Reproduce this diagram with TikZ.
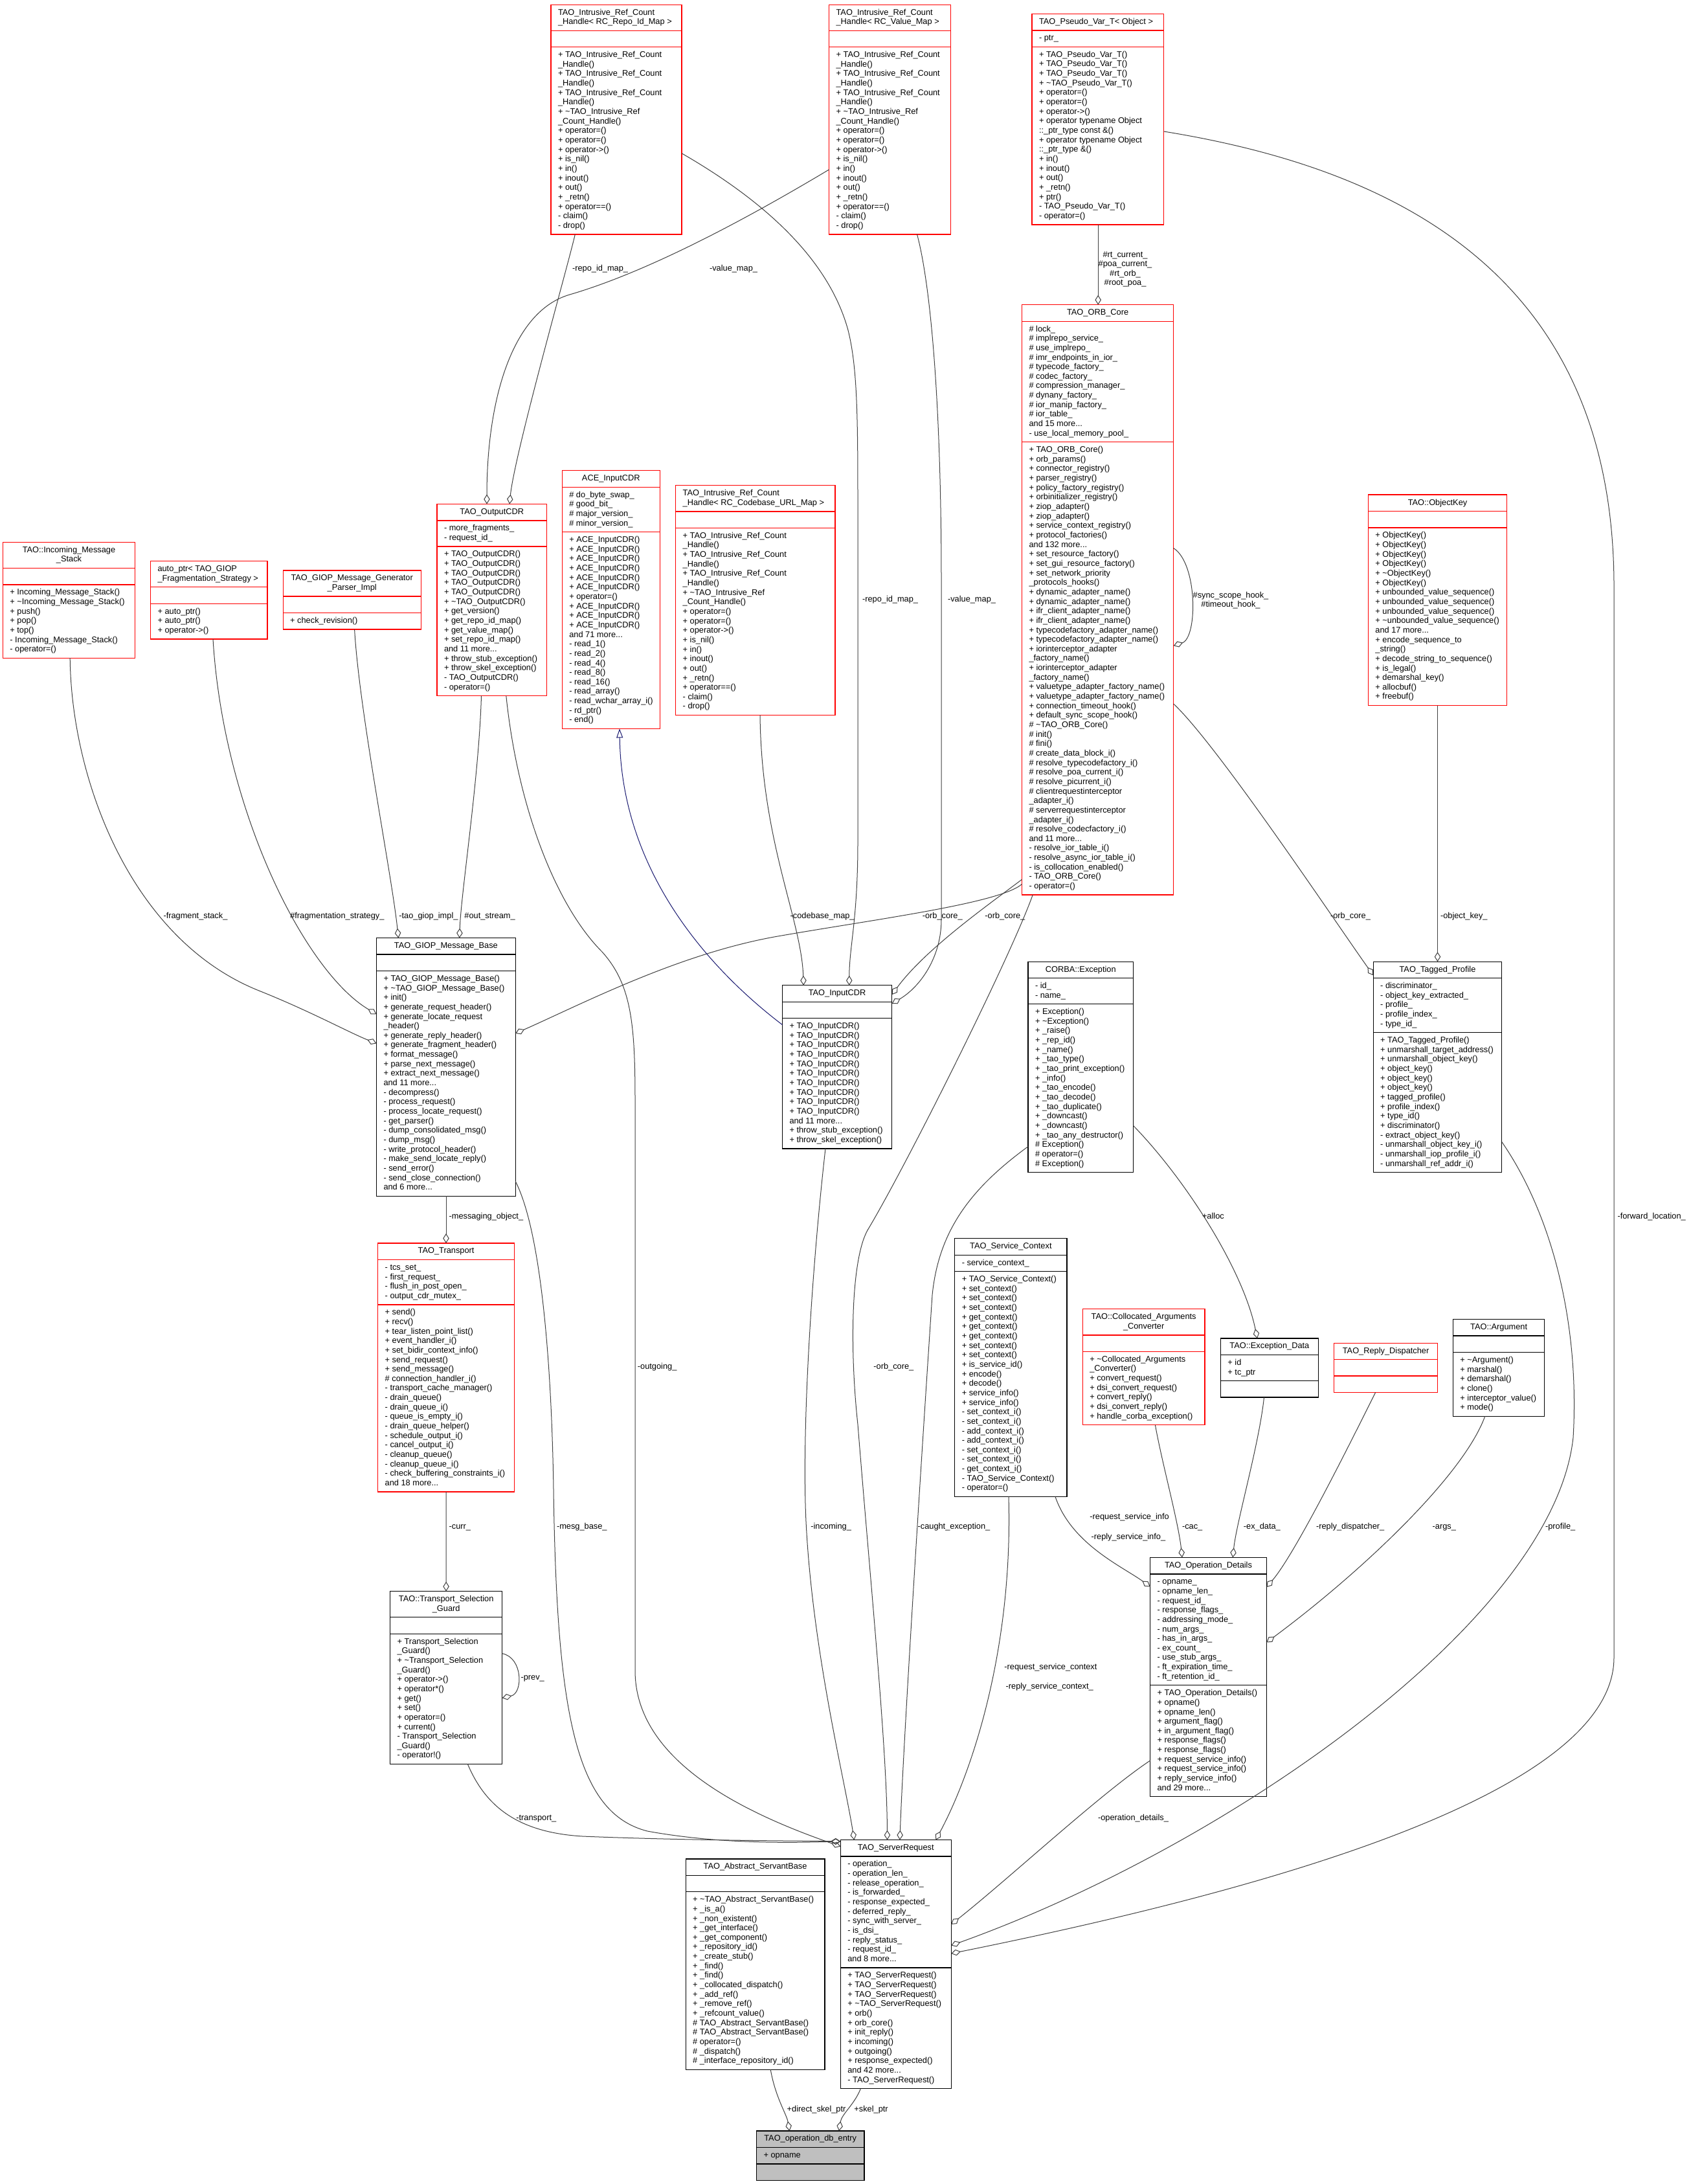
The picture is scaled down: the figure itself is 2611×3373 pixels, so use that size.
\documentclass[tikz,border=0pt]{standalone}
\usepackage{fontspec}
\setmainfont{Liberation Sans}
\usetikzlibrary{arrows.meta}
\definecolor{edgegray}{HTML}{404040}
\definecolor{inhblue}{HTML}{191970}
\definecolor{dbgray}{HTML}{BFBFBF}
\newcommand\tld{\textasciitilde}
\newcommand\umlT[2]{\begin{tabular}[t]{@{}#1@{}}#2\end{tabular}}
\def\umlgetthree#1/#2/#3\relax{\def\ux{#1}\def\uy{#2}\def\uw{#3}}
\def\umlgetn#1/#2/#3\relax{\def\unT{#1}\def\unA{#2}\def\unM{#3}}
\newcommand\umlboxL{\def\utal{l}\umlbox}
\newcommand\umlboxC{\def\utal{c}\umlbox}
\newcommand\umlbox[7]{%
  \umlgetthree#3\relax
  \umlgetn#4\relax
  \pgfmathsetmacro\uhT{\unT*14.65+10.8}%
  \pgfmathsetmacro\uhA{\unA*14.65+10.8}%
  \pgfmathsetmacro\uhM{\unM*14.65+10.8}%
  \pgfmathsetmacro\uH{\uhT+\uhA+\uhM}%
  \pgfmathsetmacro\usA{\uy+\uhT}%
  \pgfmathsetmacro\usM{\usA+\uhA}%
  \node[#2,anchor=north west,minimum width=\uw pt,minimum height=\uH pt,inner sep=0pt,outer sep=0pt] (#1) at (\ux,\uy) {};
  \draw[#2,fill=none] (\ux,\usA) -- ++(\uw,0) (\ux,\usM) -- ++(\uw,0);
  \if l\utal
    \node[boxtext,anchor=base west] (#1-t) at (\ux+11,\uy+15.9) {\umlT{l}{#5}};
  \else
    \node[boxtext,anchor=base] (#1-t) at (\ux+\uw/2,\uy+15.9) {\umlT{c}{#5}};
  \fi
  \node[boxtext,anchor=base west] (#1-a) at (\ux+11,\usA+15.9) {\umlT{l}{#6}};
  \node[boxtext,anchor=base west] (#1-m) at (\ux+11,\usM+15.9) {\umlT{l}{#7}};
}
\tikzset{
 boxtext/.style={inner sep=0pt,outer sep=0pt,font=\fontsize{12.8}{14.65}\selectfont,text=black},
 elabel/.style={inner sep=0pt,outer sep=0pt,font=\fontsize{12.8}{14.65}\selectfont,text=black,anchor=base west},
 redbox/.style={draw=red,fill=white,line width=1.3pt},
 blackbox/.style={draw=black,fill=white,line width=1.3pt},
 graybox/.style={draw=black,fill=dbgray,line width=1.3pt},
 agg/.style={draw=edgegray,line width=1pt,-{Diamond[open,length=15pt,width=9.5pt]}},
 inh/.style={draw=inhblue,line width=1pt,-{Triangle[open,length=14pt,width=10pt]}},
}
\begin{document}
\catcode`\_=12
\newcommand\irclist{+ TAO_Intrusive_Ref_Count\\_Handle()\\+ TAO_Intrusive_Ref_Count\\_Handle()\\+ TAO_Intrusive_Ref_Count\\_Handle()\\+ \tld{}TAO_Intrusive_Ref\\_Count_Handle()\\+ operator=()\\+ operator=()\\+ operator->()\\+ is_nil()\\+ in()\\+ inout()\\+ out()\\+ _retn()\\+ operator==()\\- claim()\\- drop()}
\begin{tikzpicture}[x=1pt,y=-1pt]
\fill[white] (0,0) rectangle (2611,3373);
\useasboundingbox (0,0) rectangle (2611,3373);

% ---------- boxes ----------
\umlboxL{repo}{redbox}{851/7.2/202}{2/1/19}{TAO_Intrusive_Ref_Count\\_Handle< RC_Repo_Id_Map >}{}{\irclist}
\umlboxL{valuemap}{redbox}{1280.6/7.2/188.1}{2/1/19}{TAO_Intrusive_Ref_Count\\_Handle< RC_Value_Map >}{}{\irclist}
\umlboxL{pseudo}{redbox}{1594/21.5/203.7}{1/1/18}{TAO_Pseudo_Var_T< Object >}{- ptr_}{+ TAO_Pseudo_Var_T()\\+ TAO_Pseudo_Var_T()\\+ TAO_Pseudo_Var_T()\\+ \tld{}TAO_Pseudo_Var_T()\\+ operator=()\\+ operator=()\\+ operator->()\\+ operator typename Object\\::_ptr_type const \&()\\+ operator typename Object\\::_ptr_type \&()\\+ in()\\+ inout()\\+ out()\\+ _retn()\\+ ptr()\\- TAO_Pseudo_Var_T()\\- operator=()}
\umlboxC{orb}{redbox}{1578.5/470.7/234.2}{1/12/47}{TAO_ORB_Core}{\# lock_\\\# implrepo_service_\\\# use_implrepo_\\\# imr_endpoints_in_ior_\\\# typecode_factory_\\\# codec_factory_\\\# compression_manager_\\\# dynany_factory_\\\# ior_manip_factory_\\\# ior_table_\\and 15 more...\\- use_local_memory_pool_}{+ TAO_ORB_Core()\\+ orb_params()\\+ connector_registry()\\+ parser_registry()\\+ policy_factory_registry()\\+ orbinitializer_registry()\\+ ziop_adapter()\\+ ziop_adapter()\\+ service_context_registry()\\+ protocol_factories()\\and 132 more...\\+ set_resource_factory()\\+ set_gui_resource_factory()\\+ set_network_priority\\_protocols_hooks()\\+ dynamic_adapter_name()\\+ dynamic_adapter_name()\\+ ifr_client_adapter_name()\\+ ifr_client_adapter_name()\\+ typecodefactory_adapter_name()\\+ typecodefactory_adapter_name()\\+ iorinterceptor_adapter\\_factory_name()\\+ iorinterceptor_adapter\\_factory_name()\\+ valuetype_adapter_factory_name()\\+ valuetype_adapter_factory_name()\\+ connection_timeout_hook()\\+ default_sync_scope_hook()\\\# \tld{}TAO_ORB_Core()\\\# init()\\\# fini()\\\# create_data_block_i()\\\# resolve_typecodefactory_i()\\\# resolve_poa_current_i()\\\# resolve_picurrent_i()\\\# clientrequestinterceptor\\_adapter_i()\\\# serverrequestinterceptor\\_adapter_i()\\\# resolve_codecfactory_i()\\and 11 more...\\- resolve_ior_table_i()\\- resolve_async_ior_table_i()\\- is_collocation_enabled()\\- TAO_ORB_Core()\\- operator=()}
\umlboxC{outcdr}{redbox}{675/778.5/169.5}{1/2/15}{TAO_OutputCDR}{- more_fragments_\\- request_id_}{+ TAO_OutputCDR()\\+ TAO_OutputCDR()\\+ TAO_OutputCDR()\\+ TAO_OutputCDR()\\+ TAO_OutputCDR()\\+ \tld{}TAO_OutputCDR()\\+ get_version()\\+ get_repo_id_map()\\+ get_value_map()\\+ set_repo_id_map()\\and 11 more...\\+ throw_stub_exception()\\+ throw_skel_exception()\\- TAO_OutputCDR()\\- operator=()}
\umlboxC{incstack}{redbox}{4.4/837.3/204.2}{2/1/7}{TAO::Incoming_Message\\_Stack}{}{+ Incoming_Message_Stack()\\+ \tld{}Incoming_Message_Stack()\\+ push()\\+ pop()\\+ top()\\- Incoming_Message_Stack()\\- operator=()}
\umlboxL{autoptr}{redbox}{232.5/866.7/180.5}{2/1/3}{auto_ptr< TAO_GIOP\\_Fragmentation_Strategy >}{}{+ auto_ptr()\\+ auto_ptr()\\+ operator->()}
\umlboxC{genparser}{redbox}{437.2/881/213}{2/1/1}{TAO_GIOP_Message_Generator\\_Parser_Impl}{}{+ check_revision()}
\umlboxC{aceinput}{redbox}{868.3/726.8/151}{1/4/20}{ACE_InputCDR}{\# do_byte_swap_\\\# good_bit_\\\# major_version_\\\# minor_version_}{+ ACE_InputCDR()\\+ ACE_InputCDR()\\+ ACE_InputCDR()\\+ ACE_InputCDR()\\+ ACE_InputCDR()\\+ ACE_InputCDR()\\+ operator=()\\+ ACE_InputCDR()\\+ ACE_InputCDR()\\+ ACE_InputCDR()\\and 71 more...\\- read_1()\\- read_2()\\- read_4()\\- read_8()\\- read_16()\\- read_array()\\- read_wchar_array_i()\\- rd_ptr()\\- end()}
\umlboxL{codebase}{redbox}{1043.7/749.8/246.3}{2/1/19}{TAO_Intrusive_Ref_Count\\_Handle< RC_Codebase_URL_Map >}{}{\irclist}
\umlboxC{objkey}{redbox}{2113.4/764.1/214.2}{1/1/18}{TAO::ObjectKey}{}{+ ObjectKey()\\+ ObjectKey()\\+ ObjectKey()\\+ ObjectKey()\\+ \tld{}ObjectKey()\\+ ObjectKey()\\+ unbounded_value_sequence()\\+ unbounded_value_sequence()\\+ unbounded_value_sequence()\\+ \tld{}unbounded_value_sequence()\\and 17 more...\\+ encode_sequence_to\\_string()\\+ decode_string_to_sequence()\\+ is_legal()\\+ demarshal_key()\\+ allocbuf()\\+ freebuf()}
\umlboxC{giop}{blackbox}{581.5/1448.6/214.7}{1/1/23}{TAO_GIOP_Message_Base}{}{+ TAO_GIOP_Message_Base()\\+ \tld{}TAO_GIOP_Message_Base()\\+ init()\\+ generate_request_header()\\+ generate_locate_request\\_header()\\+ generate_reply_header()\\+ generate_fragment_header()\\+ format_message()\\+ parse_next_message()\\+ extract_next_message()\\and 11 more...\\- decompress()\\- process_request()\\- process_locate_request()\\- get_parser()\\- dump_consolidated_msg()\\- dump_msg()\\- write_protocol_header()\\- make_send_locate_reply()\\- send_error()\\- send_close_connection()\\and 6 more...}
\umlboxC{transport}{redbox}{583.7/1920/210.8}{1/4/19}{TAO_Transport}{- tcs_set_\\- first_request_\\- flush_in_post_open_\\- output_cdr_mutex_}{+ send()\\+ recv()\\+ tear_listen_point_list()\\+ event_handler_i()\\+ set_bidir_context_info()\\+ send_request()\\+ send_message()\\\# connection_handler_i()\\- transport_cache_manager()\\- drain_queue()\\- drain_queue_i()\\- queue_is_empty_i()\\- drain_queue_helper()\\- schedule_output_i()\\- cancel_output_i()\\- cleanup_queue()\\- cleanup_queue_i()\\- check_buffering_constraints_i()\\and 18 more...}
\umlboxC{inputcdr}{blackbox}{1208.5/1521.8/169.2}{1/1/13}{TAO_InputCDR}{}{+ TAO_InputCDR()\\+ TAO_InputCDR()\\+ TAO_InputCDR()\\+ TAO_InputCDR()\\+ TAO_InputCDR()\\+ TAO_InputCDR()\\+ TAO_InputCDR()\\+ TAO_InputCDR()\\+ TAO_InputCDR()\\+ TAO_InputCDR()\\and 11 more...\\+ throw_stub_exception()\\+ throw_skel_exception()}
\umlboxC{corbaexc}{blackbox}{1588/1485.2/162.5}{1/2/17}{CORBA::Exception}{- id_\\- name_}{+ Exception()\\+ \tld{}Exception()\\+ _raise()\\+ _rep_id()\\+ _name()\\+ _tao_type()\\+ _tao_print_exception()\\+ _info()\\+ _tao_encode()\\+ _tao_decode()\\+ _tao_duplicate()\\+ _downcast()\\+ _downcast()\\+ _tao_any_destructor()\\\# Exception()\\\# operator=()\\\# Exception()}
\umlboxC{tagged}{blackbox}{2121.2/1485.2/198.6}{1/5/14}{TAO_Tagged_Profile}{- discriminator_\\- object_key_extracted_\\- profile_\\- profile_index_\\- type_id_}{+ TAO_Tagged_Profile()\\+ unmarshall_target_address()\\+ unmarshall_object_key()\\+ object_key()\\+ object_key()\\+ object_key()\\+ tagged_profile()\\+ profile_index()\\+ type_id()\\+ discriminator()\\- extract_object_key()\\- unmarshall_object_key_i()\\- unmarshall_iop_profile_i()\\- unmarshall_ref_addr_i()}
\umlboxC{svcctx}{blackbox}{1474.8/1912.8/173.1}{1/1/23}{TAO_Service_Context}{- service_context_}{+ TAO_Service_Context()\\+ set_context()\\+ set_context()\\+ set_context()\\+ get_context()\\+ get_context()\\+ get_context()\\+ set_context()\\+ set_context()\\+ is_service_id()\\+ encode()\\+ decode()\\+ service_info()\\+ service_info()\\- set_context_i()\\- set_context_i()\\- add_context_i()\\- add_context_i()\\- set_context_i()\\- set_context_i()\\- get_context_i()\\- TAO_Service_Context()\\- operator=()}
\umlboxC{colloc}{redbox}{1672.3/2021.8/188.7}{2/1/7}{TAO::Collocated_Arguments\\_Converter}{}{+ \tld{}Collocated_Arguments\\_Converter()\\+ convert_request()\\+ dsi_convert_request()\\+ convert_reply()\\+ dsi_convert_reply()\\+ handle_corba_exception()}
\umlboxC{exdata}{blackbox}{1885.4/2067/150.9}{1/2/1}{TAO::Exception_Data}{+ id\\+ tc_ptr}{}
\umlboxC{replydisp}{redbox}{2060.7/2074.2/159.8}{1/1/1}{TAO_Reply_Dispatcher}{}{}
\umlboxC{argument}{blackbox}{2244.4/2037.6/141.4}{1/1/6}{TAO::Argument}{}{+ \tld{}Argument()\\+ marshal()\\+ demarshal()\\+ clone()\\+ interceptor_value()\\+ mode()}
\umlboxC{tsg}{blackbox}{602.6/2457.7/173.1}{2/1/13}{TAO::Transport_Selection\\_Guard}{}{+ Transport_Selection\\_Guard()\\+ \tld{}Transport_Selection\\_Guard()\\+ operator->()\\+ operator*()\\+ get()\\+ set()\\+ operator=()\\+ current()\\- Transport_Selection\\_Guard()\\- operator!()}
\umlboxC{opdet}{blackbox}{1776.6/2405.4/179.8}{1/11/11}{TAO_Operation_Details}{- opname_\\- opname_len_\\- request_id_\\- response_flags_\\- addressing_mode_\\- num_args_\\- has_in_args_\\- ex_count_\\- use_stub_args_\\- ft_expiration_time_\\- ft_retention_id_}{+ TAO_Operation_Details()\\+ opname()\\+ opname_len()\\+ argument_flag()\\+ in_argument_flag()\\+ response_flags()\\+ response_flags()\\+ request_service_info()\\+ request_service_info()\\+ reply_service_info()\\and 29 more...}
\umlboxC{srvreq}{blackbox}{1298.3/2841.6/170.9}{1/11/12}{TAO_ServerRequest}{- operation_\\- operation_len_\\- release_operation_\\- is_forwarded_\\- response_expected_\\- deferred_reply_\\- sync_with_server_\\- is_dsi_\\- reply_status_\\- request_id_\\and 8 more...}{+ TAO_ServerRequest()\\+ TAO_ServerRequest()\\+ TAO_ServerRequest()\\+ \tld{}TAO_ServerRequest()\\+ orb()\\+ orb_core()\\+ init_reply()\\+ incoming()\\+ outgoing()\\+ response_expected()\\and 42 more...\\- TAO_ServerRequest()}
\umlboxC{servant}{blackbox}{1059.2/2870.9/214.7}{1/1/18}{TAO_Abstract_ServantBase}{}{+ \tld{}TAO_Abstract_ServantBase()\\+ _is_a()\\+ _non_existent()\\+ _get_interface()\\+ _get_component()\\+ _repository_id()\\+ _create_stub()\\+ _find()\\+ _find()\\+ _collocated_dispatch()\\+ _add_ref()\\+ _remove_ref()\\+ _refcount_value()\\\# TAO_Abstract_ServantBase()\\\# TAO_Abstract_ServantBase()\\\# operator=()\\\# _dispatch()\\\# _interface_repository_id()}
\umlboxC{dbentry}{graybox}{1168.5/3291/166.5}{1/1/1}{TAO_operation_db_entry}{+ opname}{}

% ---------- connectors ----------
\draw[agg] ([xshift=37.3pt]repo.south west) .. controls (880,400) and (795,700) .. ([xshift=112pt]outcdr.north west);
\draw[agg] ([yshift=-254.7pt]valuemap.north west) .. controls (1150,340) and (1000,420) .. (880,455) .. controls (790,481) and (752,620) .. ([xshift=77pt]outcdr.north west);
\draw[agg] ([yshift=-229.6pt]repo.north east) .. controls (1180,310) and (1280,400) .. (1310,510) .. controls (1325,570) and (1325,650) .. (1325,800) -- (1325,1300) .. controls (1325,1420) and (1312,1460) .. ([xshift=103.2pt]inputcdr.north west);
\draw[agg] ([xshift=135.9pt]valuemap.south west) .. controls (1435,430) and (1454,600) .. (1454,900) -- (1454,1420) .. controls (1454,1480) and (1420,1525) .. ([yshift=-28.2pt]inputcdr.north east);
\draw[agg] ([yshift=-887.5pt]orb.north west) .. controls (1530,1395) and (1430,1465) .. ([yshift=-14.3pt]inputcdr.north east);
\draw[agg] ([yshift=-894.7pt]orb.north west) .. controls (1545,1395) and (1350,1420) .. (1203,1445.7) .. controls (1050,1472) and (900,1550) .. ([yshift=-147.4pt]giop.north east);
\draw[agg] ([xshift=130.3pt]codebase.south west) .. controls (1176,1300) and (1238,1420) .. ([xshift=32.7pt]inputcdr.north west);
\draw[inh] ([yshift=-60.9pt]inputcdr.north west) .. controls (1100,1500) and (960,1350) .. ([xshift=88.7pt]aceinput.south west);
\draw[agg] ([yshift=-375.9pt]orb.north east) .. controls (1850,870) and (1850,985) .. ([yshift=-526.6pt]orb.north east);
\draw[agg] ([yshift=-616.3pt]orb.north east) .. controls (1880,1150) and (2060,1420) .. ([yshift=-21pt]tagged.north west);
\draw[agg] ([xshift=107.1pt]objkey.south west) -- ([xshift=99.3pt]tagged.north west);
\draw[agg] ([xshift=102.2pt]pseudo.south west) -- ([xshift=117.7pt]orb.north west);
\draw[agg] ([yshift=-181.5pt]pseudo.north east) .. controls (2150,260) and (2490,420) .. (2493,900) -- (2493,2560) .. controls (2493,2780) and (1900,2930) .. ([yshift=-175.4pt]srvreq.north east);
\draw[agg] ([yshift=-278.4pt]tagged.north east) .. controls (2400,1880) and (2440,2050) .. (2430,2220) .. controls (2400,2500) and (1900,2850) .. ([yshift=-163pt]srvreq.north east);
\draw[agg] ([yshift=-313.6pt]opdet.north west) .. controls (1700,2770) and (1560,2900) .. ([yshift=-130.4pt]srvreq.north east);
\draw[agg] ([xshift=155.2pt]svcctx.south west) .. controls (1655,2385) and (1735,2420) .. ([yshift=-45.1pt]opdet.north west);
\draw[agg] ([xshift=112.1pt]colloc.south west) .. controls (1795,2260) and (1820,2350) .. ([xshift=49.4pt]opdet.north west);
\draw[agg] ([xshift=67.1pt]exdata.south west) .. controls (1945,2230) and (1910,2350) .. ([xshift=127.6pt]opdet.north west);
\draw[agg] ([xshift=63.8pt]replydisp.south west) .. controls (2080,2240) and (2000,2400) .. ([yshift=-45.8pt]opdet.north east);
\draw[agg] ([xshift=49.4pt]argument.south west) .. controls (2260,2280) and (2100,2430) .. ([yshift=-131.1pt]opdet.north east);
\draw[agg] ([yshift=-253.2pt]corbaexc.north east) .. controls (1830,1820) and (1920,1960) .. ([xshift=56.6pt]exdata.north west);
\draw[agg] ([xshift=107.5pt]giop.south west) -- ([xshift=105.3pt]transport.north west);
\draw[agg] ([xshift=105.3pt]transport.south west) -- ([xshift=86.5pt]tsg.north west);
\draw[agg] ([yshift=-96pt]tsg.north east) .. controls (808,2560) and (808,2615) .. ([yshift=-164.7pt]tsg.north east);
\draw[agg] ([xshift=119.8pt]tsg.south west) .. controls (750,2790) and (800,2830) .. (900,2836) .. controls (1050,2842) and (1200,2843) .. ([yshift=-2pt]srvreq.north west);
\draw[agg] ([yshift=-375.9pt]giop.north east) .. controls (835,1900) and (852,2100) .. (855,2300) .. controls (860,2650) and (890,2800) .. (1000,2828) .. controls (1120,2850) and (1240,2845) .. ([yshift=-2.5pt]srvreq.north west);
\draw[agg] ([xshift=106.8pt]outcdr.south west) .. controls (800,1250) and (860,1400) .. (930,1470) .. controls (975,1520) and (981,1580) .. (981,1700) -- (981,2580) .. controls (981,2720) and (1150,2800) .. ([yshift=-10pt]srvreq.north west);
\draw[agg] ([xshift=66.5pt]inputcdr.south west) .. controls (1255,1950) and (1238,2200) .. (1245,2350) .. controls (1255,2550) and (1305,2750) .. ([xshift=21.1pt]srvreq.north west);
\draw[agg] ([xshift=16.7pt]orb.south west) .. controls (1560,1480) and (1400,1800) .. (1340,1900) .. controls (1315,1945) and (1312,2080) .. (1325,2200) .. controls (1345,2450) and (1370,2700) .. ([xshift=72.2pt]srvreq.north west);
\draw[agg] ([yshift=-285.5pt]corbaexc.north west) .. controls (1500,1835) and (1450,1900) .. (1440,2000) .. controls (1420,2300) and (1395,2700) .. ([xshift=91.6pt]srvreq.north west);
\draw[agg] ([xshift=83.2pt]svcctx.south west) .. controls (1565,2550) and (1500,2740) .. ([xshift=147.1pt]srvreq.north west);
\draw[agg] ([xshift=131pt]servant.south west) .. controls (1198,3240) and (1215,3265) .. ([xshift=51pt]dbentry.north west);
\draw[agg] ([xshift=31.1pt]srvreq.south west) .. controls (1320,3250) and (1300,3265) .. ([xshift=127.5pt]dbentry.north west);
\draw[agg] ([xshift=96.5pt]autoptr.south west) .. controls (345,1250) and (470,1500) .. ([yshift=-117.6pt]giop.north west);
\draw[agg] ([xshift=103.8pt]incstack.south west) .. controls (110,1200) and (200,1450) .. (400,1530) .. controls (480,1562) and (540,1595) .. ([yshift=-162.8pt]giop.north west);
\draw[agg] ([xshift=110.4pt]genparser.south west) .. controls (555,1100) and (605,1350) .. ([xshift=33.9pt]giop.north west);
\draw[agg] ([xshift=68.5pt]outcdr.south west) .. controls (740,1200) and (712,1380) .. ([xshift=128.2pt]giop.north west);

% ---------- labels ----------
\node[elabel] (lb1) at (884,418.5) {-repo_id_map_};
\node[elabel] (lb2) at (1096,418.5) {-value_map_};
\node[elabel] (lb3) at (1332,929.3) {-repo_id_map_};
\node[elabel] (lb4) at (1464,929.3) {-value_map_};
\node[boxtext,anchor=base] (lb5) at (1738,397) {\umlT{c}{\#rt_current_\\\#poa_current_\\\#rt_orb_\\\#root_poa_}};
\node[boxtext,anchor=base] (lb6) at (1901,923) {\umlT{c}{\#sync_scope_hook_\\\#timeout_hook_}};
\node[elabel] (lb7) at (252.5,1418.6) {-fragment_stack_};
\node[elabel] (lb8) at (448.3,1418.6) {\#fragmentation_strategy_};
\node[elabel] (lb9) at (616.4,1418.6) {-tao_giop_impl_};
\node[elabel] (lb10) at (717.4,1418.6) {\#out_stream_};
\node[elabel] (lb11) at (1220.7,1418.6) {-codebase_map_};
\node[elabel] (lb12) at (1424.8,1418.6) {-orb_core_};
\node[elabel] (lb13) at (1521.4,1418.6) {-orb_core_};
\node[elabel] (lb14) at (2055,1418.6) {-orb_core_};
\node[elabel] (lb15) at (2225,1418.6) {-object_key_};
\node[elabel] (lb16) at (693.6,1882.8) {-messaging_object_};
\node[elabel] (lb17) at (1857,1882.8) {+alloc};
\node[elabel] (lb18) at (2498.5,1882.8) {-forward_location_};
\node[elabel] (lb19) at (984.9,2114.6) {-outgoing_};
\node[elabel] (lb20) at (1349.4,2114.6) {-orb_core_};
\node[elabel] (lb21) at (693.6,2361.9) {-curr_};
\node[elabel] (lb22) at (860,2361.9) {-mesg_base_};
\node[elabel] (lb23) at (1252.3,2361.9) {-incoming_};
\node[elabel] (lb24) at (1417.6,2361.9) {-caught_exception_};
\node[elabel] (lb25) at (1683.4,2346.2) {-request_service_info};
\node[elabel] (lb26) at (1685.6,2377) {-reply_service_info_};
\node[elabel] (lb27) at (1826,2361.9) {-cac_};
\node[elabel] (lb28) at (1920.9,2361.9) {-ex_data_};
\node[elabel] (lb29) at (2033,2361.9) {-reply_dispatcher_};
\node[elabel] (lb30) at (2212.7,2361.9) {-args_};
\node[elabel] (lb31) at (2387,2361.9) {-profile_};
\node[elabel] (lb32) at (1551.4,2578.9) {-request_service_context};
\node[elabel] (lb33) at (1553.6,2608.3) {-reply_service_context_};
\node[elabel] (lb34) at (804.5,2594) {-prev_};
\node[elabel] (lb35) at (797.3,2811) {-transport_};
\node[elabel] (lb36) at (1696,2811) {-operation_details_};
\node[elabel] (lb37) at (1215.7,3261.5) {+direct_skel_ptr};
\node[elabel] (lb38) at (1319.4,3261.5) {+skel_ptr};
\end{tikzpicture}
\end{document}
